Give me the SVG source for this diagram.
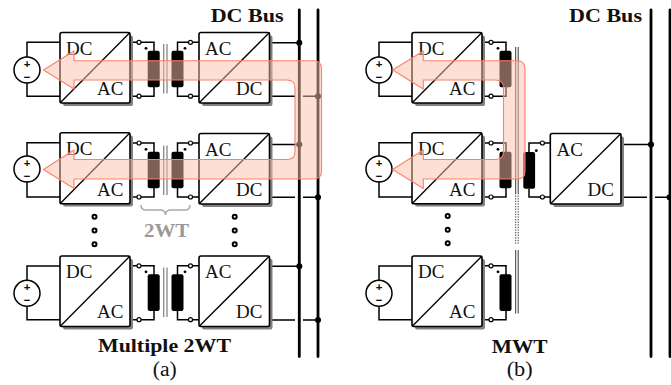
<svg xmlns="http://www.w3.org/2000/svg" width="671" height="385" viewBox="0 0 671 385">
<style>
text{font-family:"Liberation Serif","DejaVu Serif",serif;fill:#111}
.l{font-size:19px}
.b{font-size:18px;font-weight:bold}
.g{fill:#999}
.c{font-size:20px}
.s{font-family:"Liberation Sans",sans-serif;font-size:11.5px;font-weight:bold;text-anchor:middle}
.w{fill:none;stroke:#000;stroke-width:1.5}
.bus{fill:none;stroke:#000;stroke-width:2.8;stroke-linecap:round}
.box{fill:#fff;stroke:#000;stroke-width:1.6}
.sh{fill:#808080}
.d{fill:none;stroke:#000;stroke-width:1.3}
.src{fill:#fff;stroke:#000;stroke-width:1.5}
.t{fill:#fff;stroke:#000;stroke-width:1.2}
.coil{fill:#000}
.pt{fill:#000}
.j{fill:#000}
.e{fill:#fff;stroke:#000;stroke-width:2}
.core{fill:none;stroke:#888;stroke-width:1.3}
.coreb{fill:none;stroke:#222;stroke-width:.9}
.dot{stroke-dasharray:1.3 1.3}
.flow{fill:#fbc2a8;fill-opacity:.5;stroke:#ff7f6a;stroke-width:1.1;stroke-linejoin:round}
.br{fill:none;stroke:#aaa;stroke-width:1.5}
</style>
<g id="connectors">
<path class="bus" d="M299.3,10V356.5M318,10V356.5M651,10V356.5M670,10V356.5"/>
<path class="w" d="M60,42.3H27V57M27,83V96.2H60M60,142.8H27V156M27,182V197H60M60,266H27V280M27,306V319.7H60"/>
<path class="w" d="M130,42.3H137M141,42.3H154V51M154,87V96.2H141M137,96.2H130M130,143H137M141,143H154V152M154,188V197H141M137,197H130M130,265.8H137M141,265.8H154V275M154,311V319.7H141M137,319.7H130"/>
<path class="w" d="M199,42.3H192.5M188.5,42.3H177.5V51M177.5,87V96.2H188.5M192.5,96.2H199M199,143H192.5M188.5,143H177.5V152M177.5,188V197H188.5M192.5,197H199M199,265.8H192.5M188.5,265.8H177.5V275M177.5,311V319.7H188.5M192.5,319.7H199"/>
<path class="w" d="M269.5,42.7H299M269.5,96.3H295M303,96.3H318M269.5,144.5H299M269.5,197.3H295M303,197.3H318M269.5,266.3H299M269.5,320H295M303,320H318"/>
<path class="w" d="M412,42.3H379V57M379,83V96.2H412M412,142.8H379V156M379,182V197H412M412,266H379V280M379,306V319.7H412"/>
<path class="w" d="M482,42.3H489M493,42.3H506V51M506,87V96.2H493M489,96.2H482M482,143H489M493,143H506V152M506,188V197H493M489,197H482M482,265.8H489M493,265.8H506V275M506,311V319.7H493M489,319.7H482"/>
<path class="w" d="M550.3,143H544.5M540.5,143H529V152M529,188.7V197H540.5M544.5,197H550.3"/>
<path class="w" d="M621,144.5H651M621,197.3H647M655,197.3H670"/>
<circle class="j" cx="299.3" cy="42.7" r="3"/><circle class="j" cx="318" cy="96.3" r="3"/><circle class="j" cx="299.3" cy="144.5" r="3"/><circle class="j" cx="318" cy="197.3" r="3"/><circle class="j" cx="299.3" cy="266.3" r="3"/><circle class="j" cx="318" cy="320" r="3"/><circle class="j" cx="651" cy="144.5" r="3"/><circle class="j" cx="669.5" cy="197.3" r="3"/>
</g>
<g id="a-source-1"><circle class="src" cx="27" cy="70" r="13"/><text class="s" x="27" y="67.5">+</text><text class="s" x="27" y="81">−</text></g>
<g id="a-source-2"><circle class="src" cx="27" cy="169" r="13"/><text class="s" x="27" y="166.5">+</text><text class="s" x="27" y="180">−</text></g>
<g id="a-source-3"><circle class="src" cx="27" cy="293.3" r="13"/><text class="s" x="27" y="290.8">+</text><text class="s" x="27" y="304.3">−</text></g>
<g id="a-conv-1"><rect class="sh" x="63" y="35.5" width="70" height="70.5" rx="2"/><rect class="box" x="60" y="32.5" width="70" height="70.5" rx="2"/><path class="d" d="M60,103L130,32.5"/><text class="l" x="66" y="54.5">DC</text><text class="l" x="97" y="94.5">AC</text></g>
<g id="a-conv-2"><rect class="sh" x="63" y="135.5" width="70" height="71" rx="2"/><rect class="box" x="60" y="132.7" width="70" height="71" rx="2"/><path class="d" d="M60,203.7L130,132.7"/><text class="l" x="66" y="155">DC</text><text class="l" x="97" y="195.5">AC</text></g>
<g id="a-conv-3"><rect class="sh" x="63" y="259" width="70" height="70.5" rx="2"/><rect class="box" x="60" y="256" width="70" height="70.5" rx="2"/><path class="d" d="M60,326.5L130,256"/><text class="l" x="66" y="278">DC</text><text class="l" x="97" y="318">AC</text></g>
<g id="a-xfmr-1"><circle class="t" cx="139" cy="42.3" r="2"/><circle class="t" cx="139" cy="96.2" r="2"/><rect class="coil" x="147.7" y="50.7" width="12" height="36.6" rx="2"/><circle class="pt" cx="146" cy="48.3" r="1.4"/><path class="core" d="M163.7,44V93.5M167,44V93.5"/><rect class="coil" x="171.5" y="50.7" width="12" height="36.6" rx="2"/><circle class="pt" cx="185" cy="48.3" r="1.4"/><circle class="t" cx="190.5" cy="42.3" r="2"/><circle class="t" cx="190.5" cy="96.2" r="2"/></g>
<g id="a-xfmr-2"><circle class="t" cx="139" cy="143" r="2"/><circle class="t" cx="139" cy="197" r="2"/><rect class="coil" x="147.7" y="151.7" width="12" height="36.6" rx="2"/><circle class="pt" cx="146" cy="149.3" r="1.4"/><path class="core" d="M163.7,145.5V195M167,145.5V195"/><rect class="coil" x="171.5" y="151.7" width="12" height="36.6" rx="2"/><circle class="pt" cx="185" cy="149.3" r="1.4"/><circle class="t" cx="190.5" cy="143" r="2"/><circle class="t" cx="190.5" cy="197" r="2"/></g>
<g id="a-xfmr-3"><circle class="t" cx="139" cy="265.8" r="2"/><circle class="t" cx="139" cy="319.7" r="2"/><rect class="coil" x="147.7" y="274.3" width="12" height="36.6" rx="2"/><circle class="pt" cx="146" cy="271.8" r="1.4"/><path class="core" d="M163.7,267.5V317M167,267.5V317"/><rect class="coil" x="171.5" y="274.3" width="12" height="36.6" rx="2"/><circle class="pt" cx="185" cy="271.8" r="1.4"/><circle class="t" cx="190.5" cy="265.8" r="2"/><circle class="t" cx="190.5" cy="319.7" r="2"/></g>
<g id="a-conv-4"><rect class="sh" x="202" y="35.5" width="70.5" height="70.5" rx="2"/><rect class="box" x="199" y="32.5" width="70.5" height="70.5" rx="2"/><path class="d" d="M199,103L269.5,32.5"/><text class="l" x="205" y="54.5">AC</text><text class="l" x="236" y="94.5">DC</text></g>
<g id="a-conv-5"><rect class="sh" x="202" y="136.5" width="70.5" height="70.5" rx="2"/><rect class="box" x="199" y="133.5" width="70.5" height="70.5" rx="2"/><path class="d" d="M199,204L269.5,133.5"/><text class="l" x="205" y="155.5">AC</text><text class="l" x="236" y="195.5">DC</text></g>
<g id="a-conv-6"><rect class="sh" x="202" y="259" width="70.5" height="70.5" rx="2"/><rect class="box" x="199" y="256" width="70.5" height="70.5" rx="2"/><path class="d" d="M199,326.5L269.5,256"/><text class="l" x="205" y="278">AC</text><text class="l" x="236" y="318">DC</text></g>
<g id="a-ellipsis-1"><circle class="e" cx="94.5" cy="216.7" r="2"/><circle class="e" cx="94.5" cy="230.5" r="2"/><circle class="e" cx="94.5" cy="244.3" r="2"/></g>
<g id="a-ellipsis-2"><circle class="e" cx="234.7" cy="216.7" r="2"/><circle class="e" cx="234.7" cy="230.5" r="2"/><circle class="e" cx="234.7" cy="244.3" r="2"/></g>
<g id="a-brace"><path class="br" d="M141,205Q141,210 146,210H160Q165.5,210 165.5,215Q165.5,210 171,210H185Q190,210 190,205"/><text class="b g" x="144" y="236.7" textLength="45" lengthAdjust="spacingAndGlyphs">2WT</text></g>
<g id="b-source-1"><circle class="src" cx="379" cy="70" r="13"/><text class="s" x="379" y="67.5">+</text><text class="s" x="379" y="81">−</text></g>
<g id="b-source-2"><circle class="src" cx="379" cy="169" r="13"/><text class="s" x="379" y="166.5">+</text><text class="s" x="379" y="180">−</text></g>
<g id="b-source-3"><circle class="src" cx="379" cy="293.3" r="13"/><text class="s" x="379" y="290.8">+</text><text class="s" x="379" y="304.3">−</text></g>
<g id="b-conv-1"><rect class="sh" x="415" y="35.5" width="70" height="70.5" rx="2"/><rect class="box" x="412" y="32.5" width="70" height="70.5" rx="2"/><path class="d" d="M412,103L482,32.5"/><text class="l" x="418" y="54.5">DC</text><text class="l" x="449" y="94.5">AC</text></g>
<g id="b-conv-2"><rect class="sh" x="415" y="135.5" width="70" height="71" rx="2"/><rect class="box" x="412" y="132.7" width="70" height="71" rx="2"/><path class="d" d="M412,203.7L482,132.7"/><text class="l" x="418" y="155">DC</text><text class="l" x="449" y="195.5">AC</text></g>
<g id="b-conv-3"><rect class="sh" x="415" y="259" width="70" height="70.5" rx="2"/><rect class="box" x="412" y="256" width="70" height="70.5" rx="2"/><path class="d" d="M412,326.5L482,256"/><text class="l" x="418" y="278">DC</text><text class="l" x="449" y="318">AC</text></g>
<g id="b-xfmr"><circle class="t" cx="491" cy="42.3" r="2"/><circle class="t" cx="491" cy="96.2" r="2"/><rect class="coil" x="499.5" y="50.7" width="12" height="36.6" rx="2"/><circle class="pt" cx="498" cy="48.3" r="1.4"/><circle class="t" cx="491" cy="143" r="2"/><circle class="t" cx="491" cy="197" r="2"/><rect class="coil" x="499.5" y="151.7" width="12" height="36.6" rx="2"/><circle class="pt" cx="498" cy="149.3" r="1.4"/><circle class="t" cx="491" cy="265.8" r="2"/><circle class="t" cx="491" cy="319.7" r="2"/><rect class="coil" x="499.5" y="274.3" width="12" height="36.6" rx="2"/><circle class="pt" cx="498" cy="271.8" r="1.4"/><path class="coreb" d="M515.7,47V193M518.2,47V193M515.7,250V313.5M518.2,250V313.5"/><path class="coreb dot" d="M515.7,193V245M518.2,193V245"/><rect class="coil" x="523.3" y="152" width="11.8" height="36.7" rx="2"/><circle class="pt" cx="536.3" cy="150.7" r="1.4"/><circle class="t" cx="542.4" cy="143" r="2"/><circle class="t" cx="542.4" cy="197" r="2"/></g>
<g id="b-conv-4"><rect class="sh" x="553.3" y="136.5" width="70.7" height="70.5" rx="2"/><rect class="box" x="550.3" y="133.5" width="70.7" height="70.5" rx="2"/><path class="d" d="M550.3,204L621,133.5"/><text class="l" x="556.5" y="155.5">AC</text><text class="l" x="587.5" y="195.5">DC</text></g>
<g id="b-ellipsis"><circle class="e" cx="447.7" cy="216" r="2"/><circle class="e" cx="447.7" cy="229.7" r="2"/><circle class="e" cx="447.7" cy="243.3" r="2"/></g>
<g id="a-flow"><path class="flow" d="M43.5,70L74,51V60.7H313.5Q321.5,60.7 321.5,68.7V171Q321.5,179 313.5,179H74V188.5L43.5,169.5L74,150V159.5H287Q295,159.5 295,151.5V88Q295,80 287,80H74V89Z"/></g>
<g id="b-flow"><path class="flow" d="M392.7,70L423.3,51V60.7H517Q525,60.7 525,68.7V171Q525,179 517,179H423.3V188.5L392.7,169.5L423.3,150V159.5H495.5Q503.5,159.5 503.5,151.5V88Q503.5,80 495.5,80H423.3V89Z"/></g>
<g id="labels">
<text class="b" x="210.7" y="21.7" textLength="73" lengthAdjust="spacingAndGlyphs">DC Bus</text>
<text class="b" x="569" y="21.7" textLength="73" lengthAdjust="spacingAndGlyphs">DC Bus</text>
<text class="b" x="98" y="352.3" textLength="133" lengthAdjust="spacingAndGlyphs">Multiple 2WT</text>
<text class="b" x="491.7" y="353" textLength="56" lengthAdjust="spacingAndGlyphs">MWT</text>
<text class="c" x="152.7" y="376" textLength="24" lengthAdjust="spacingAndGlyphs">(a)</text>
<text class="c" x="506.7" y="376" textLength="26" lengthAdjust="spacingAndGlyphs">(b)</text>
</g>
</svg>
